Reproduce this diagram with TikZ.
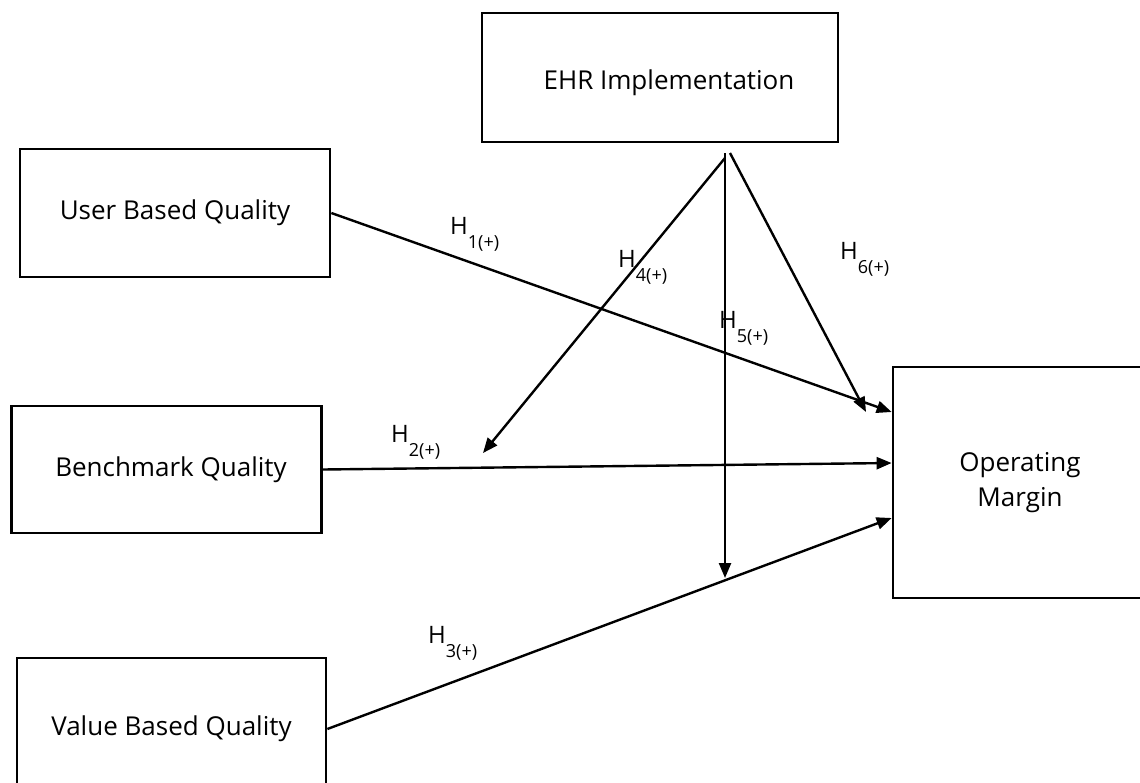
\documentclass[tikz,border=0pt]{standalone}
\usepackage{fontspec}
\setmainfont{Open Sans}
\usetikzlibrary{arrows.meta}
\tikzset{
  box/.style={draw=black, line width=2.7pt, fill=white, minimum width=#1, align=center, font=\fontsize{26}{35}\selectfont, inner sep=0pt},
  box/.default={310pt},
  conn/.style={line width=2.4pt, -{Triangle[length=15pt,width=12pt]}},
  hlab/.style={anchor=base west, inner sep=0pt, font=\fontsize{24}{28}\selectfont}
}
\newcommand{\hsub}[1]{\raisebox{-14pt}{\fontsize{18}{20}\selectfont #1}}
\begin{document}
\begin{tikzpicture}[x=1pt,y=-1pt]
\useasboundingbox (0,0) rectangle (1140,782);
\fill[white] (0,0) rectangle (1140,782);
\clip (0,0) rectangle (1140,782);
% boxes
\node[box=356pt, minimum height=129pt, text height=30pt, text depth=6.5pt] (ehr) at (660,77.5) {\hspace*{18pt}EHR Implementation};
\node[box=310pt, minimum height=128pt] (ubq) at (175,213) {User Based Quality};
\node[box=310pt, minimum height=127pt] (bq) at (166.5,469.5) {\hspace*{9pt}Benchmark Quality};
\node[box=309pt, minimum height=142pt] (vbq) at (171.5,729) {Value Based Quality};
\node[box=254pt, minimum height=231pt] (om) at (1020,482.5) {Operating\\Margin};
% free ends
\coordinate (s4) at (725,158);
\coordinate (s5) at (725,153);
\coordinate (s6) at (730,153);
\coordinate (t4) at (483,453);
\coordinate (t5) at (725,578);
\coordinate (t6) at (866,412);
% connectors
\draw[conn] (ubq.east) -- ([yshift=70.5pt]om.west);
\draw[conn] (bq.east) -- ([yshift=19.5pt]om.west);
\draw[conn] (vbq.east) -- ([yshift=-35.5pt]om.west);
\draw[conn] (s4) -- (t4);
\draw[conn] (s5) -- (t5);
\draw[conn] (s6) -- (t6);
% labels
\node[hlab] (h1) at (450,234) {H\hsub{1(+)}};
\node[hlab] (h2) at (391,442) {H\hsub{2(+)}};
\node[hlab] (h3) at (428,643) {H\hsub{3(+)}};
\node[hlab] (h4) at (618,267) {H\hsub{4(+)}};
\node[hlab] (h5) at (719,328) {H\hsub{5(+)}};
\node[hlab] (h6) at (840,259) {H\hsub{6(+)}};
\end{tikzpicture}
\end{document}
